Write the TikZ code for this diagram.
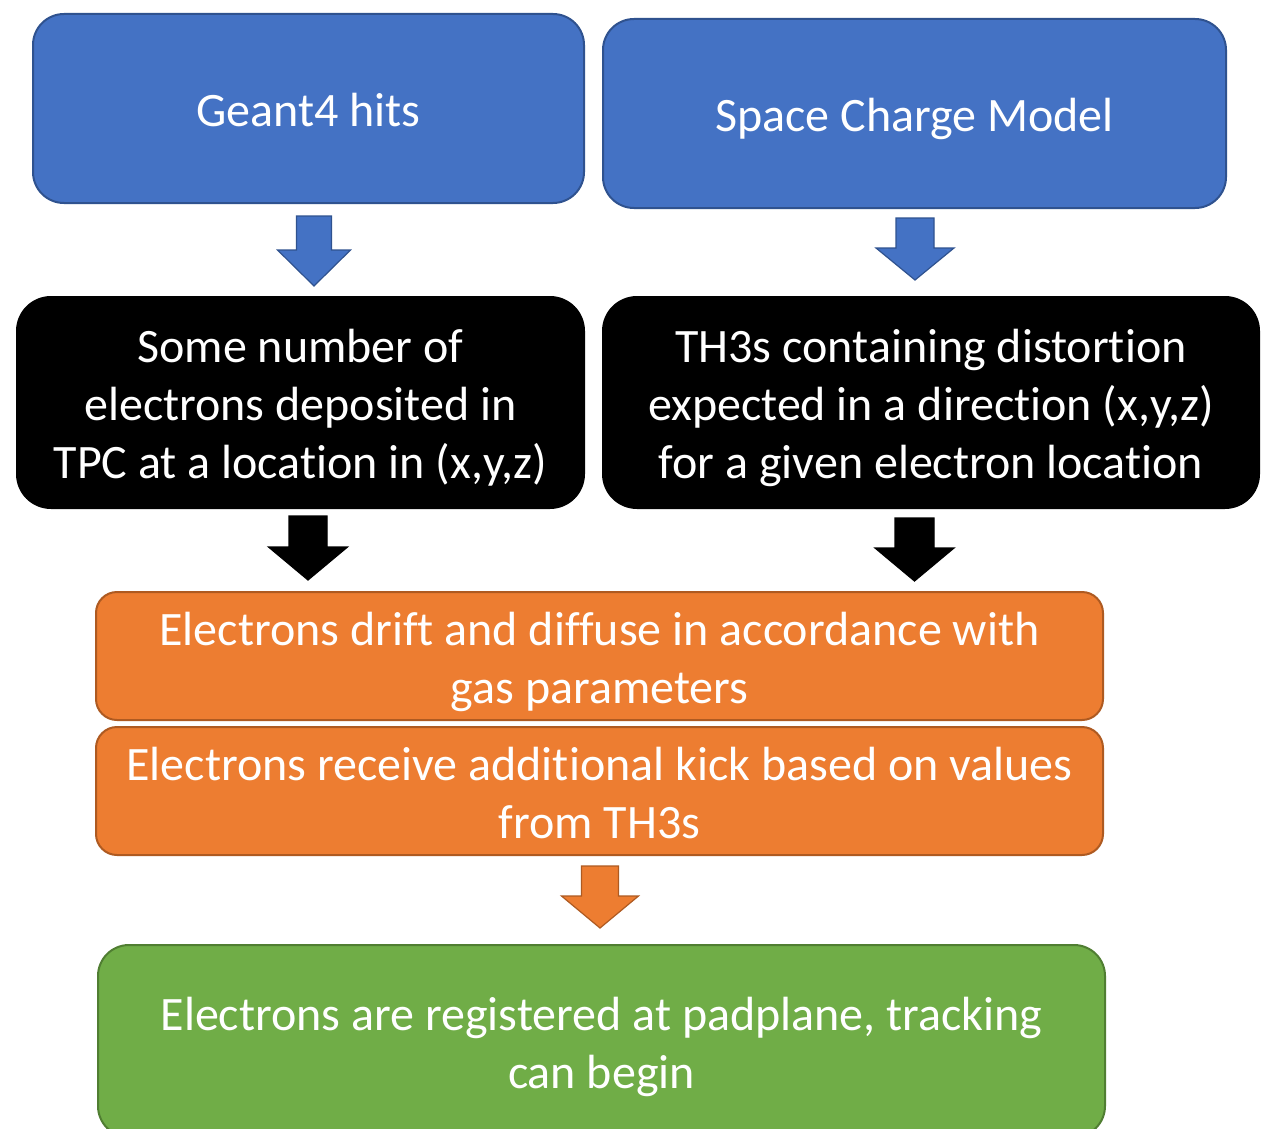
\documentclass[tikz,border=0pt]{standalone}
\usepackage{fontspec}
\setmainfont{Carlito}[Ligatures={TeX,NoCommon}]
\usepackage{tikz}
\definecolor{B}{RGB}{68,114,196}
\definecolor{Bd}{RGB}{47,82,143}
\definecolor{O}{RGB}{237,125,49}
\definecolor{Od}{RGB}{174,90,33}
\definecolor{G}{RGB}{112,173,71}
\definecolor{Gd}{RGB}{80,126,50}
\newcommand{\bigtext}{\fontsize{48}{58}\selectfont}
\newcommand{\linestrut}{\rule[-11pt]{0pt}{58pt}}
% block arrow: #1 style, #2 top coordinate, #3 half shaft, #4 half head, #5 shaft length, #6 head length
\newcommand{\blockarrow}[6][]{
    \filldraw[line width=1.2pt,line join=miter,#1] (#2) ++(-#3,0)--++(2*#3,0)--++(0,#5)--++(#4-#3,0)--++(-#4,#6)--++(-#4,-#6)--++(#4-#3,0)--cycle;
}
\tikzset{
    box/.style={rectangle,draw,line width=2pt,text=white,align=flush center,font=\bigtext,inner sep=0pt,
        execute at begin node=\linestrut,execute at end node=\linestrut},
    bluebox/.style={box,fill=B,draw=Bd,rounded corners=31pt,minimum height=189pt},
    blackbox/.style={box,fill=black,draw=black,rounded corners=34pt,minimum height=211pt},
    orangebox/.style={box,fill=O,draw=Od,rounded corners=21pt,text width=1007pt,minimum height=128pt},
    greenbox/.style={box,fill=G,draw=Gd,rounded corners=31pt,text width=1007pt,minimum height=192pt}
}
\begin{document}
\begin{tikzpicture}[x=1pt,y=-1pt]
\useasboundingbox[fill=white] (0,0) rectangle (1271,1129);
% top row
\node[bluebox,text width=551pt] (geant) at (308.5,108.5) {Geant4 hits};
\node[bluebox,text width=623pt] (scm) at (914.5,113.5) {Space Charge Model};
% middle row
\node[blackbox,text width=567pt] (dep) at (300.5,402.5) {Some number of\\electrons deposited in\\TPC at a location in (x,y,z)};
\node[blackbox,text width=656pt] (dist) at (931,402.5) {TH3s containing distortion\\expected in a direction (x,y,z)\\for a given electron location};
% lower boxes
\node[orangebox] (drift) at (599.5,656) {Electrons drift and diffuse in accordance with\\gas parameters};
\node[orangebox] (kick) at (599.5,791) {Electrons receive additional kick based on values\\from TH3s};
\node[greenbox] (reg) at (601.5,1041) {Electrons are registered at padplane, tracking\\can begin};
% arrows
\coordinate (geantout) at (314,216);
\coordinate (scmout) at (915,218);
\coordinate (depout) at (308,516);
\coordinate (distout) at (914.5,518);
\coordinate (kickout) at (600,866);
\blockarrow[fill=B,draw=Bd]{geantout}{17.5}{36.5}{34}{36}
\blockarrow[fill=B,draw=Bd]{scmout}{19}{39}{30}{32}
\blockarrow[fill=black,draw=black]{depout}{19}{39.5}{31}{33}
\blockarrow[fill=black,draw=black]{distout}{19.5}{39.5}{30}{33}
\blockarrow[fill=O,draw=Od]{kickout}{18.5}{38.5}{30}{32}
\end{tikzpicture}
\end{document}
